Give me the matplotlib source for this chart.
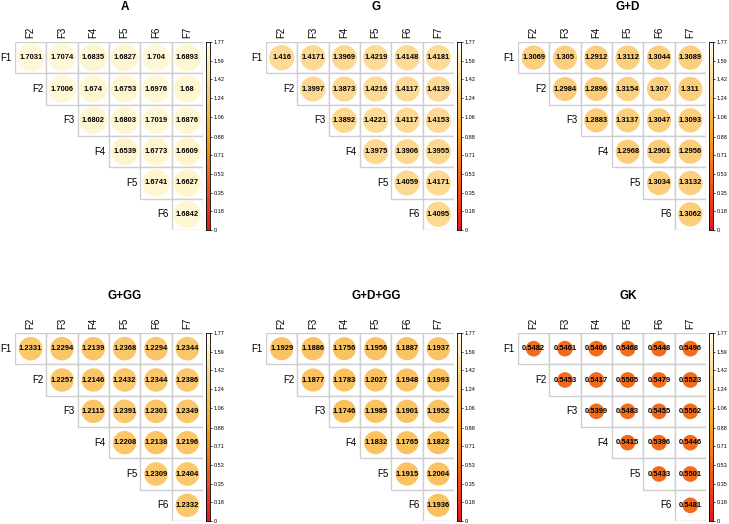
import numpy as np
import matplotlib
matplotlib.use('Agg')
import matplotlib.pyplot as plt
from matplotlib.colors import LinearSegmentedColormap, Normalize
from matplotlib.patches import Rectangle, Circle

plt.rcParams['font.family'] = ['Liberation Sans', 'DejaVu Sans']

# etiquetas
row_labels = ['F1', 'F2', 'F3', 'F4', 'F5', 'F6']
col_labels = ['F2', 'F3', 'F4', 'F5', 'F6', 'F7']
titles = ['A', 'G', 'G+D', 'G+GG', 'G+D+GG', 'GK']

# triangulo superior, linha a linha
A = [[1.7031, 1.7074, 1.6835, 1.6827, 1.704, 1.6893],
     [1.7006, 1.674, 1.6753, 1.6976, 1.68],
     [1.6802, 1.6803, 1.7019, 1.6876],
     [1.6539, 1.6773, 1.6609],
     [1.6741, 1.6627],
     [1.6842]]
G = [[1.416, 1.4171, 1.3969, 1.4219, 1.4148, 1.4181],
     [1.3997, 1.3873, 1.4216, 1.4117, 1.4139],
     [1.3892, 1.4221, 1.4117, 1.4153],
     [1.3975, 1.3906, 1.3955],
     [1.4059, 1.4171],
     [1.4095]]
GD = [[1.3069, 1.305, 1.2912, 1.3112, 1.3044, 1.3089],
      [1.2984, 1.2896, 1.3154, 1.307, 1.311],
      [1.2883, 1.3137, 1.3047, 1.3093],
      [1.2968, 1.2901, 1.2956],
      [1.3034, 1.3132],
      [1.3062]]
GGG = [[1.2331, 1.2294, 1.2139, 1.2368, 1.2294, 1.2344],
       [1.2257, 1.2146, 1.2432, 1.2344, 1.2386],
       [1.2115, 1.2391, 1.2301, 1.2349],
       [1.2208, 1.2138, 1.2196],
       [1.2309, 1.2404],
       [1.2332]]
GDGG = [[1.1929, 1.1886, 1.1756, 1.1956, 1.1887, 1.1937],
        [1.1877, 1.1783, 1.2027, 1.1948, 1.1993],
        [1.1746, 1.1985, 1.1901, 1.1952],
        [1.1832, 1.1765, 1.1822],
        [1.1915, 1.2004],
        [1.1936]]
GK = [[0.5482, 0.5461, 0.5406, 0.5468, 0.5448, 0.5496],
      [0.5453, 0.5417, 0.5505, 0.5479, 0.5523],
      [0.5399, 0.5483, 0.5455, 0.5502],
      [0.5415, 0.5396, 0.5446],
      [0.5433, 0.5501],
      [0.5481]]
dados = [A, G, GD, GGG, GDGG, GK]

vmax = 1.77
cbar_ticks = [0, 0.18, 0.35, 0.53, 0.71, 0.88, 1.06, 1.24, 1.42, 1.59, 1.77]
cbar_labels = ['0', '0.18', '0.35', '0.53', '0.71', '0.88', '1.06', '1.24', '1.42', '1.59', '1.77']

cmap = LinearSegmentedColormap.from_list('heat', ['#E8141C', '#F8A21B', '#FFFFE6'])
norm = Normalize(0, vmax)

W, H = 729, 524
fig = plt.figure(figsize=(W / 100, H / 100), dpi=100)

# posicao das grades (pixels)
grid_left = [15, 266, 518]
grid_top = [42, 333]
title_y = [-1.12, -1.18]
gsize = 188


def fmt(v):
    s = '%.4f' % v
    return s.rstrip('0').rstrip('.')


for k in range(6):
    lin, col = divmod(k, 3)
    gl = grid_left[col]
    gt = grid_top[lin]
    ax = fig.add_axes([gl / W, 1 - (gt + gsize) / H, gsize / W, gsize / H])
    ax.set_xlim(0, 6)
    ax.set_ylim(6, 0)
    ax.axis('off')
    vals = dados[k]
    for i in range(6):
        for n, v in enumerate(vals[i]):
            j = i + n
            ax.add_patch(Rectangle((j, i), 1, 1, facecolor='white', edgecolor='#CFCFCF', lw=1.0))
            r = 0.45 * np.sqrt(v / vmax)
            ax.add_patch(Circle((j + 0.5, i + 0.5), r, facecolor=cmap(norm(v)), edgecolor='none'))
            ax.text(j + 0.5, i + 0.5, fmt(v), ha='center', va='center', fontsize=5.4,
                    fontweight='bold', color='black')
        ax.text(i - 0.1, i + 0.5, row_labels[i], ha='right', va='center', fontsize=7, clip_on=False)
    for j in range(6):
        ax.text(j + 0.5, -0.14, col_labels[j], ha='center', va='bottom', rotation=90,
                fontsize=7, clip_on=False)
    ax.text(3 + 16 / 31.3, title_y[lin], titles[k], ha='center', va='center',
            fontsize=8.5, fontweight='bold', clip_on=False)

    # barra de cores
    cax = fig.add_axes([(gl + gsize + 3) / W, 1 - (gt + gsize) / H, 4 / W, gsize / H])
    grad = np.linspace(0, vmax, 256).reshape(-1, 1)
    cax.imshow(grad, aspect='auto', cmap=cmap, norm=norm, origin='lower',
               extent=[0, 1, 0, vmax])
    cax.set_xticks([])
    cax.yaxis.tick_right()
    cax.set_yticks(cbar_ticks)
    cax.set_yticklabels(cbar_labels)
    cax.tick_params(axis='y', labelsize=4, length=1.5, width=0.5, pad=1, colors='black')
    for sp in cax.spines.values():
        sp.set_linewidth(0.6)

fig.savefig('out.png', dpi=100, facecolor='white')
